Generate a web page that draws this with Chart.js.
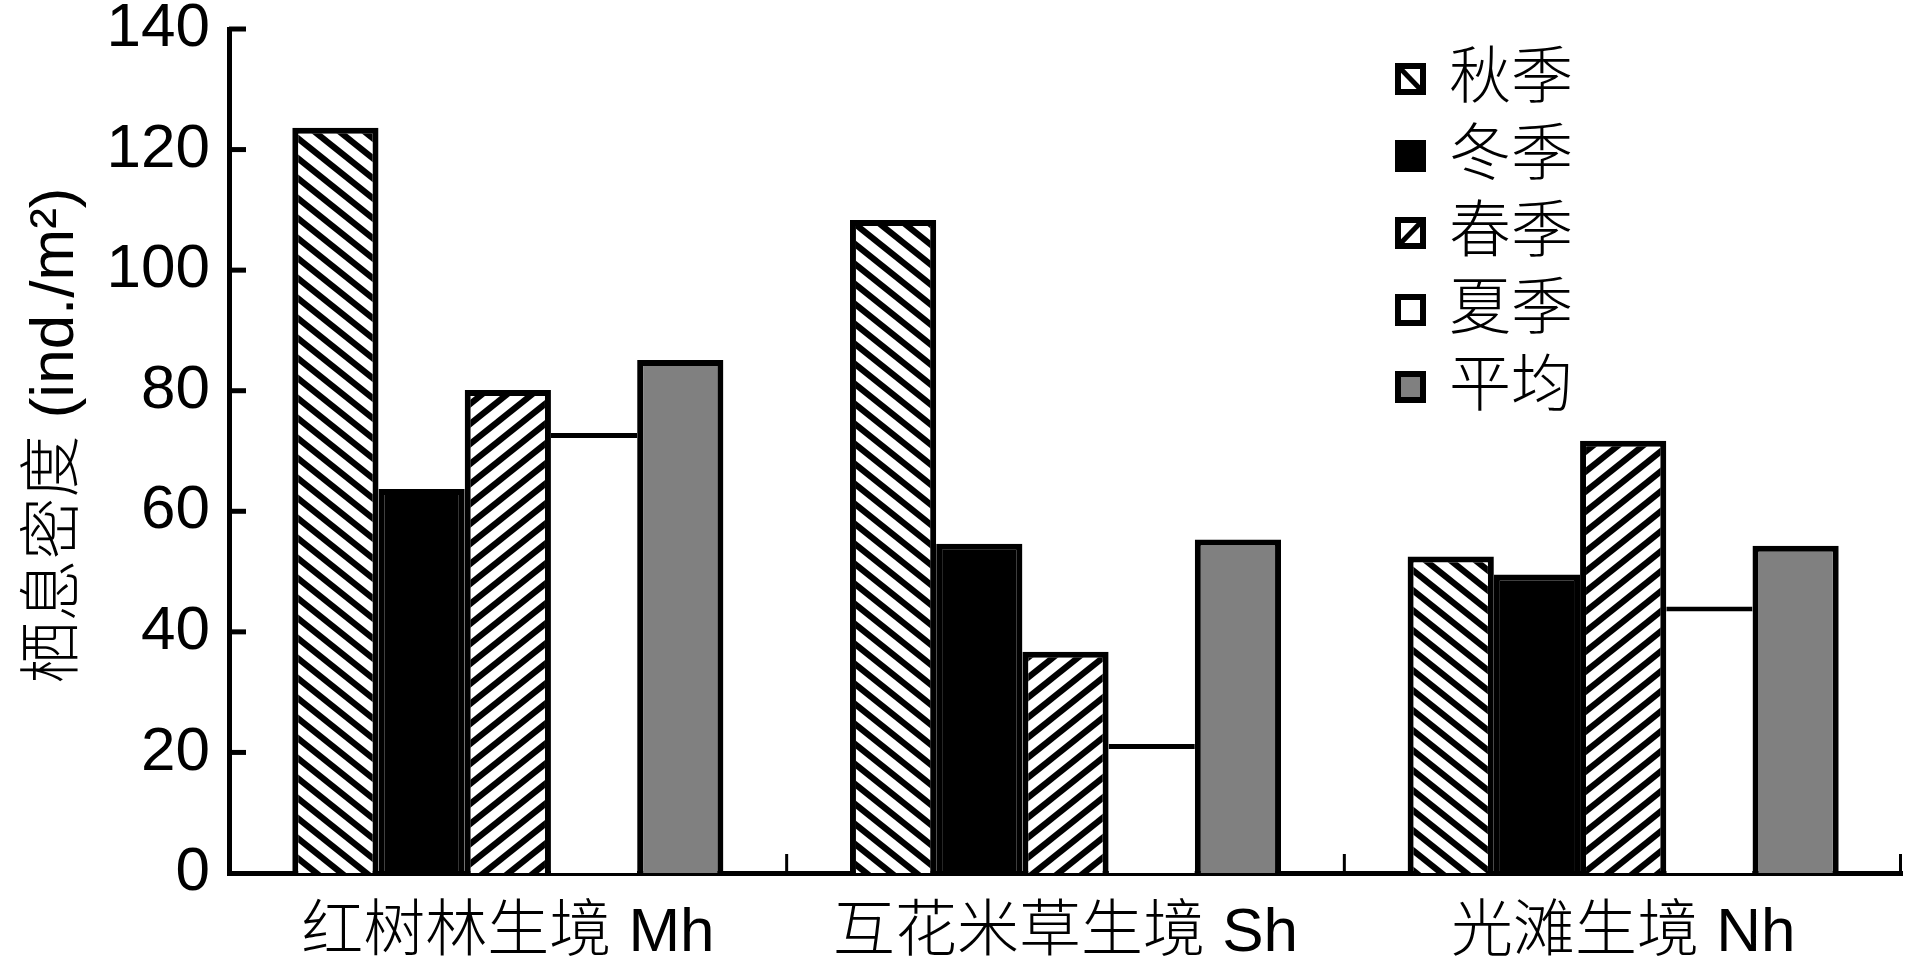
<!DOCTYPE html>
<html><head><meta charset="utf-8">
<script src="https://cdn.jsdelivr.net/npm/chart.js@4"></script>
<style>html,body{margin:0;padding:0;background:#fff}#wrap{width:1906px;height:972px}</style>
</head><body><div id="wrap"><canvas id="c" width="1906" height="972"></canvas></div>
<script>
const categories = ['红树林生境 Mh', '互花米草生境 Sh', '光滩生境 Nh'];
const seriesNames = ['秋季', '冬季', '春季', '夏季', '平均'];
const autumn = [123.6, 108.3, 52.5];
const winter = [63.7, 54.6, 49.5];
const spring = [80.1, 36.7, 71.7];
const summer = [73.0, 21.4, 44.2];
const mean   = [85.1, 55.3, 54.3];
const yTicks = [0, 20, 40, 60, 80, 100, 120, 140];
const yTitle = '\u2002栖息密度 (ind./m²)';

const FONT = '"Liberation Sans", "Noto Sans CJK SC", sans-serif';
const canvas = document.getElementById('c');
const mainCtx = canvas.getContext('2d');

function hatch(dir) {
  const w = 25, h = 20;
  const c = document.createElement('canvas');
  c.width = w; c.height = h;
  const g = c.getContext('2d');
  g.fillStyle = '#fff'; g.fillRect(0, 0, w, h);
  g.strokeStyle = '#000'; g.lineWidth = 6.2;
  for (let k = -2; k <= 2; k++) {
    g.beginPath();
    if (dir === 'down') { g.moveTo(k * w - w, -h); g.lineTo(k * w + 2 * w, 2 * h); }
    else { g.moveTo(k * w - w, 2 * h); g.lineTo(k * w + 2 * w, -h); }
    g.stroke();
  }
  return mainCtx.createPattern(c, 'repeat');
}
const hatchDown = hatch('down');
const hatchUp = hatch('up');

const legendStyle = { boxX: 1395, boxW: 31, boxH: 32, firstY: 79, step: 77, textX: 1449, size: 62 };
const legendKinds = ['down', 'black', 'up', 'white', 'gray'];

const tickMarks = {
  id: 'tickMarks',
  afterDraw(chart) {
    const { ctx, chartArea: a, scales: { x, y } } = chart;
    ctx.save();
    ctx.strokeStyle = '#000';
    ctx.lineWidth = 5;
    yTicks.forEach(v => {
      const py = y.getPixelForValue(v);
      if (v === 0) return;
      ctx.beginPath(); ctx.moveTo(a.left, py); ctx.lineTo(a.left + 17, py); ctx.stroke();
    });
    ctx.lineWidth = 3;
    for (let i = 1; i <= categories.length; i++) {
      let px = x.getPixelForValue(i - 0.5);
      if (i === categories.length) px -= 1.5;
      ctx.beginPath(); ctx.moveTo(px, a.bottom); ctx.lineTo(px, a.bottom - 19); ctx.stroke();
    }
    // legend
    const L = legendStyle;
    chart.data.datasets.forEach((ds, i) => {
      const cy = L.firstY + i * L.step;
      const bx = L.boxX, by = cy - L.boxH / 2;
      const kind = legendKinds[i];
      ctx.fillStyle = kind === 'black' ? '#000' : kind === 'gray' ? '#808080' : '#fff';
      ctx.fillRect(bx, by, L.boxW, L.boxH);
      ctx.strokeStyle = '#000';
      if (kind === 'down' || kind === 'up') {
        ctx.lineWidth = 5;
        ctx.beginPath();
        if (kind === 'down') { ctx.moveTo(bx + 3, by + 3); ctx.lineTo(bx + L.boxW - 3, by + L.boxH - 3); }
        else { ctx.moveTo(bx + 3, by + L.boxH - 3); ctx.lineTo(bx + L.boxW - 3, by + 3); }
        ctx.stroke();
      }
      ctx.lineWidth = 6;
      ctx.strokeRect(bx + 3, by + 3, L.boxW - 6, L.boxH - 6);
      ctx.fillStyle = '#000';
      ctx.font = `300 ${L.size}px ${FONT}`;
      ctx.textBaseline = 'middle';
      ctx.textAlign = 'left';
      ctx.fillText(ds.label, L.textX, cy + 2);
    });
    ctx.restore();
  }
};

new Chart(canvas, {
  type: 'bar',
  data: {
    labels: categories,
    datasets: [
      { label: seriesNames[0], data: autumn, backgroundColor: hatchDown, borderColor: '#000', borderWidth: 6 },
      { label: seriesNames[1], data: winter, backgroundColor: '#000', borderColor: '#000', borderWidth: 6 },
      { label: seriesNames[2], data: spring, backgroundColor: hatchUp, borderColor: '#000', borderWidth: 6 },
      { label: seriesNames[3], data: summer, backgroundColor: '#fff', borderColor: '#000', borderWidth: { top: 5, left: 0, right: 0, bottom: 0 } },
      { label: seriesNames[4], data: mean, backgroundColor: '#808080', borderColor: '#000', borderWidth: 6 }
    ]
  },
  options: {
    responsive: false,
    animation: false,
    devicePixelRatio: 1,
    layout: { padding: { top: 29, right: 4, left: 0, bottom: 0 } },
    plugins: { legend: { display: false }, tooltip: { enabled: false } },
    datasets: { bar: { categoryPercentage: 0.773, barPercentage: 1, inflateAmount: 0 } },
    scales: {
      x: {
        type: 'category',
        offset: true,
        z: 1,
        grid: { display: false, drawTicks: false, offset: true },
        border: { display: true, color: '#000', width: 5 },
        ticks: { color: '#000', font: { family: FONT, size: 62, weight: 300 }, padding: 24, maxRotation: 0, autoSkip: false },
        afterFit(s) { s.height = 99; s.paddingLeft = 0; s.paddingRight = 0; }
      },
      y: {
        min: 0, max: 140,
        afterBuildTicks(s) { s.ticks = yTicks.map(v => ({ value: v })); },
        grid: { display: false, drawTicks: false },
        border: { display: true, color: '#000', width: 5 },
        ticks: { color: '#000', font: { family: FONT, size: 62 }, padding: 19, callback: v => String(v) },
        title: { display: true, text: yTitle, color: '#000', font: { family: FONT, size: 62, weight: 300 }, padding: { top: 19, bottom: 0 } },
        afterFit(s) { s.width = 229; s.paddingTop = 0; s.paddingBottom = 0; }
      }
    }
  },
  plugins: [tickMarks]
});
</script>
</body></html>
